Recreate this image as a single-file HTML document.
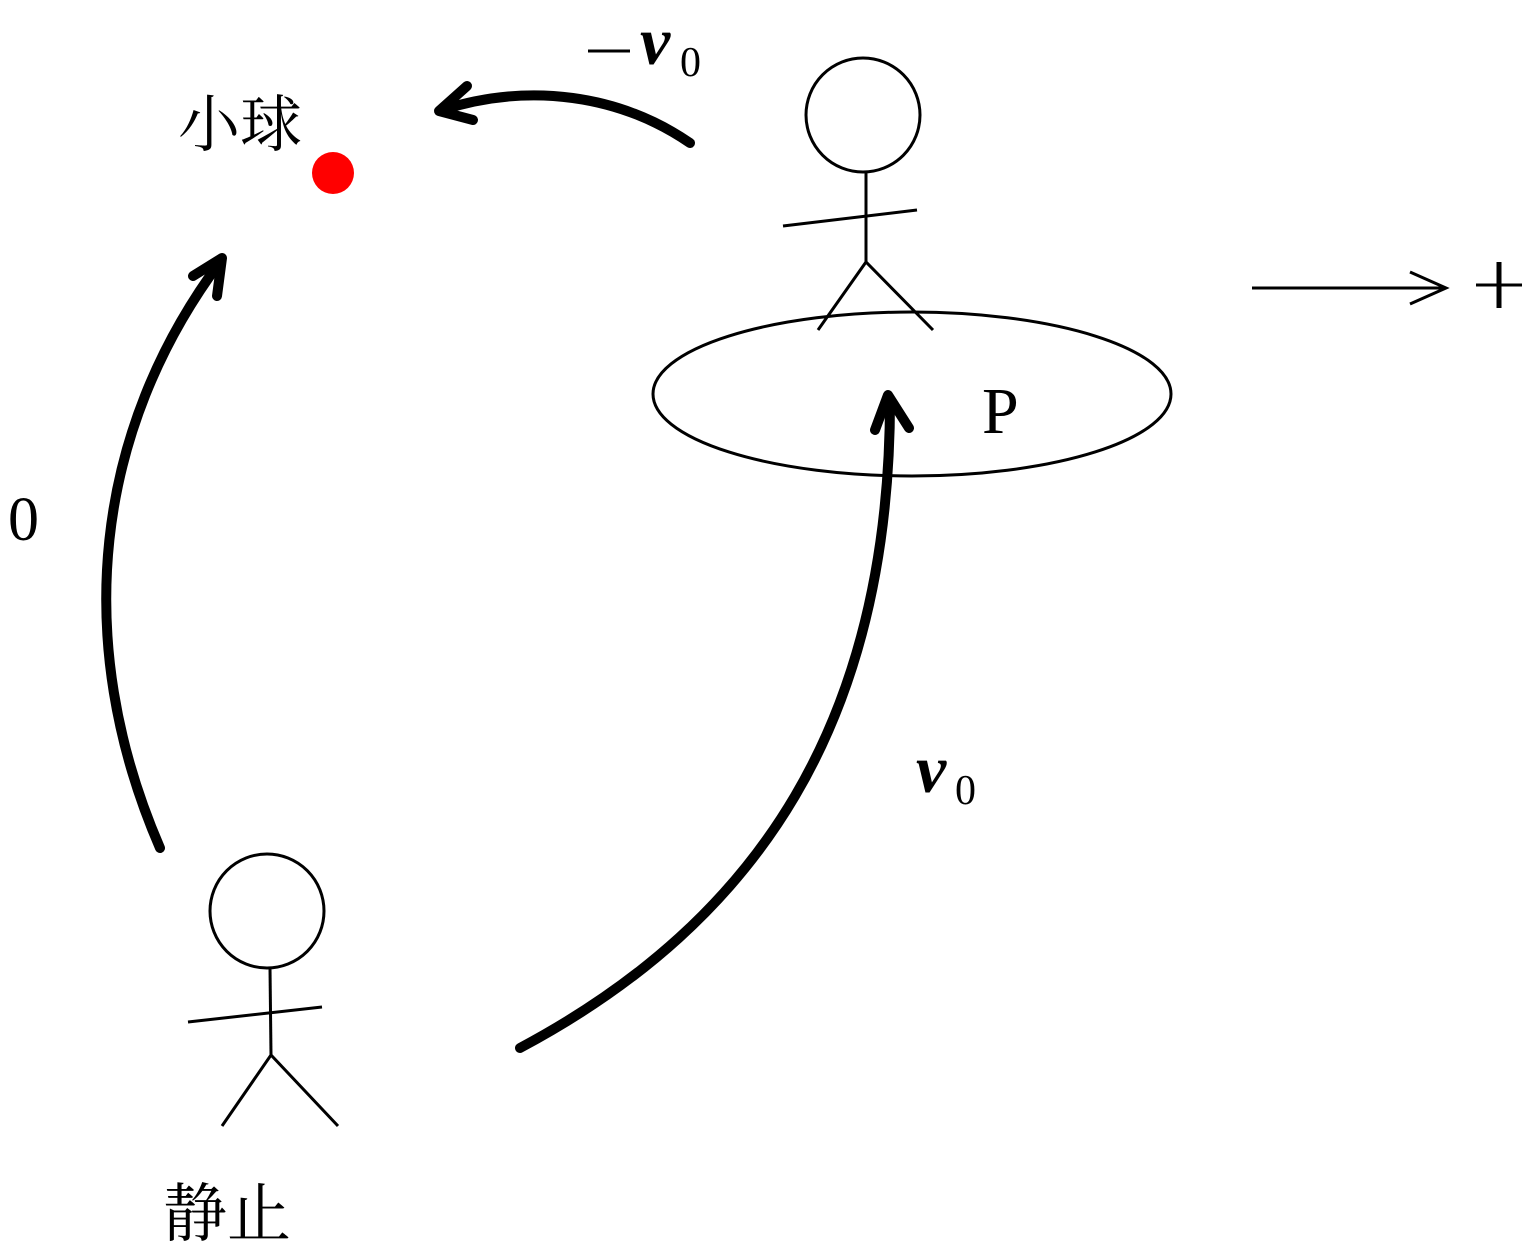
<!DOCTYPE html>
<html><head><meta charset="utf-8">
<style>
html,body{margin:0;padding:0;background:#fff;}
svg{display:block;}
</style></head>
<body>
<svg width="1536" height="1249" viewBox="0 0 1536 1249" xmlns="http://www.w3.org/2000/svg">
<rect width="1536" height="1249" fill="#fff"/>
<g font-family="'Liberation Serif','Noto Serif CJK SC',serif" fill="#000">
<text x="178" y="146" font-size="62" font-family="'Liberation Serif','Noto Serif CJK SC','Noto Sans CJK SC',serif">小球</text>
<text x="163" y="1236" font-size="64" font-family="'Liberation Serif','Noto Serif CJK SC','Noto Sans CJK SC',serif">静止</text>
<text x="8" y="540" font-size="62">0</text>
<text x="982" y="433" font-size="66">P</text>
<text x="640" y="64" font-size="68" font-style="italic" font-weight="bold">v</text>
<text x="680" y="76" font-size="42">0</text>
<text x="916" y="792" font-size="68" font-style="italic" font-weight="bold">v</text>
<text x="955" y="804" font-size="42">0</text>
</g>
<g stroke="#000" fill="none">
<line x1="588" y1="51" x2="630" y2="51" stroke-width="3"/>
<line x1="1476" y1="285" x2="1522" y2="285" stroke-width="3"/>
<line x1="1499" y1="262" x2="1499" y2="308" stroke-width="5"/>
</g>
<circle cx="333" cy="173" r="21" fill="#f00"/>
<g fill="none" stroke="#000" stroke-width="3">
<circle cx="863" cy="115" r="57"/>
<line x1="866" y1="172" x2="866" y2="262"/>
<line x1="783" y1="226" x2="917" y2="210"/>
<polyline points="818,330 866,262 933,330"/>
<ellipse cx="912" cy="394" rx="259" ry="82"/>
<circle cx="267" cy="911" r="57"/>
<line x1="270" y1="968" x2="271" y2="1055"/>
<line x1="188" y1="1022" x2="322" y2="1007"/>
<polyline points="222,1126 271,1055 338,1126"/>
<line x1="1252" y1="288" x2="1446" y2="288"/>
<polyline points="1410,272 1446,288 1410,304"/>
</g>
<g fill="none" stroke="#000" stroke-width="10" stroke-linecap="round" stroke-linejoin="round">
<path d="M690,143 C620,95 530,82 442,110"/>
<polyline points="467,86 439,111 473,120"/>
<path d="M160,848 C70,640 95,430 220,262"/>
<polyline points="193,276 222,258 217,296"/>
<path d="M520,1048 C760,920 890,720 890,400"/>
<polyline points="875,430 888,395 909,428"/>
</g>
</svg>
</body></html>
